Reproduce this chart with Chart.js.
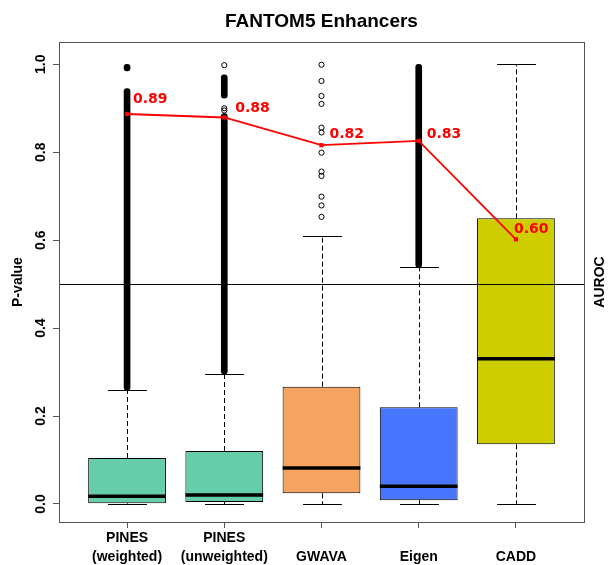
<!DOCTYPE html>
<html><head><meta charset="utf-8">
<script src="https://cdn.jsdelivr.net/npm/chart.js@4/dist/chart.umd.min.js"></script>
<style>html,body{margin:0;padding:0;background:#fff}</style>
</head><body>
<canvas id="c" width="608" height="565"></canvas>
<script>
// ---- data ----
const categories = [["PINES","(weighted)"],["PINES","(unweighted)"],["","GWAVA"],["","Eigen"],["","CADD"]];
const boxColors = ["#66CDAA","#66CDAA","#F4A460","#4876FF","#CDCD00"];
const whiskerLow = [0.0, 0.0, 0.0, 0.0, 0.0];
const q1 = [0.0015, 0.0045, 0.0243, 0.0084, 0.1357];
const medians = [0.0175, 0.0205, 0.0819, 0.0402, 0.3305];
const q3 = [0.1046, 0.1205, 0.2668, 0.2199, 0.6497];
const whiskerHigh = [0.259, 0.296, 0.610, 0.538, 1.0];
// dense runs of overlapping outliers (box index 1-based, low, high)
const bandBox = [1, 1, 2, 2, 4];
const bandLow = [0.259, 0.985, 0.296, 0.923, 0.538];
const bandHigh = [0.945, 1.0, 0.888, 0.976, 1.0];
// individually visible outliers
const outlierBox = [2, 2, 2, 3, 3, 3, 3, 3, 3, 3, 3, 3, 3, 3, 3];
const outlierValue = [0.895, 0.900, 0.998, 0.999, 0.962, 0.928, 0.910, 0.856, 0.845, 0.799, 0.756, 0.746, 0.699, 0.679, 0.653];
const auroc = [0.887, 0.879, 0.816, 0.826, 0.602];
const yTicks = [0, 0.2, 0.4, 0.6, 0.8, 1.0];
const threshold = 0.5;

// ---- styles (pixel offsets of the AUROC labels) ----
const labelOffsets = [[6,-15],[11,-9],[8,-11],[8,-6],[-2,-10]];
const HEL = "'Liberation Sans', Arial, sans-serif";

const extras = {
  id: 'extras',
  afterDatasetsDraw(chart) {
    const {ctx, chartArea: a, scales: {x, y}} = chart;
    const boxMeta = chart.getDatasetMeta(3);
    ctx.save();
    categories.forEach((c, i) => {
      const el = boxMeta.data[i];
      const w = el.width;
      const px = Math.round(x.getPixelForValue(i + 1)) + 0.5;
      ctx.strokeStyle = '#000';
      ctx.lineWidth = 1;
      ctx.setLineDash([5, 3]);
      ctx.beginPath();
      ctx.moveTo(px, y.getPixelForValue(q3[i]));
      ctx.lineTo(px, y.getPixelForValue(whiskerHigh[i]));
      ctx.moveTo(px, y.getPixelForValue(q1[i]));
      ctx.lineTo(px, y.getPixelForValue(whiskerLow[i]));
      ctx.stroke();
      ctx.setLineDash([]);
      ctx.beginPath();
      const sh = Math.round(y.getPixelForValue(whiskerHigh[i])) + 0.5;
      const sl = Math.round(y.getPixelForValue(whiskerLow[i])) + 0.5;
      ctx.moveTo(px - w / 4, sh); ctx.lineTo(px + w / 4, sh);
      ctx.moveTo(px - w / 4, sl); ctx.lineTo(px + w / 4, sl);
      ctx.stroke();
      ctx.lineWidth = 3.5;
      ctx.beginPath();
      const my = y.getPixelForValue(medians[i]);
      ctx.moveTo(el.x - w / 2, my); ctx.lineTo(el.x + w / 2, my);
      ctx.stroke();
    });
    ctx.lineWidth = 1;
    ctx.strokeStyle = '#000';
    const ty = Math.round(y.getPixelForValue(threshold)) + 0.5;
    ctx.beginPath(); ctx.moveTo(a.left, ty); ctx.lineTo(a.right, ty); ctx.stroke();
    ctx.strokeStyle = '#555';
    ctx.strokeRect(Math.round(a.left) + 0.5, Math.round(a.top) + 0.5, Math.round(a.right - a.left), Math.round(a.bottom - a.top));
    ctx.fillStyle = '#FF0000';
    ctx.font = "bold 14px 'DejaVu Sans'";
    ctx.textAlign = 'left';
    ctx.textBaseline = 'middle';
    auroc.forEach((v, i) => {
      const px = x.getPixelForValue(i + 1), py = y.getPixelForValue(v);
      ctx.fillText(v.toFixed(2), px + labelOffsets[i][0], py + labelOffsets[i][1]);
    });
    ctx.fillStyle = '#000';
    ctx.font = "bold 14px " + HEL;
    ctx.textAlign = 'center';
    ctx.translate(600, (a.top + a.bottom) / 2);
    ctx.rotate(-Math.PI / 2);
    ctx.fillText('AUROC', 0, 0);
    ctx.restore();
  }
};

new Chart(document.getElementById('c'), {
  type: 'bar',
  data: {
    datasets: [
      {
        type: 'line', label: 'AUROC', order: 0,
        data: auroc.map((v, i) => ({x: i + 1, y: v})),
        borderColor: '#FF0000', backgroundColor: '#FF0000', borderWidth: 1.8,
        pointStyle: 'rect', pointRadius: 3, pointBorderWidth: 0, tension: 0
      },
      {
        type: 'scatter', label: 'outliers', order: 1,
        data: outlierBox.map((b, i) => ({x: b, y: outlierValue[i]})),
        pointStyle: 'circle', pointRadius: 2.6, borderWidth: 1,
        borderColor: '#000', backgroundColor: 'rgba(0,0,0,0)'
      },
      {
        type: 'bar', label: 'outlier runs', order: 2, grouped: false,
        data: bandBox.map((b, i) => ({x: b, y: [bandLow[i], bandHigh[i]]})),
        backgroundColor: '#000', barThickness: 6, borderRadius: 3, borderSkipped: false, borderWidth: 0
      },
      {
        type: 'bar', label: 'boxes', order: 3, grouped: false,
        data: q1.map((v, i) => ({x: i + 1, y: [v, q3[i]]})),
        backgroundColor: boxColors, borderColor: '#000', borderWidth: 1, borderSkipped: false,
        barPercentage: 0.8, categoryPercentage: 1
      }
    ]
  },
  options: {
    responsive: false, animation: false, events: [],
    layout: {padding: {left: 0, right: 24, top: 0, bottom: 0}},
    plugins: {
      legend: {display: false}, tooltip: {enabled: false},
      title: {display: true, text: 'FANTOM5 Enhancers', fullSize: false, color: '#000',
        font: {family: HEL, size: 19, weight: 'bold', lineHeight: 1.2}, padding: {top: 10.5, bottom: 8.7}}
    },
    scales: {
      x: {
        type: 'linear', min: 0.3, max: 5.7, bounds: 'data', offset: false,
        afterBuildTicks: s => { s.ticks = categories.map((c, i) => ({value: i + 1})); },
        afterFit: s => { s.height = 43; },
        grid: {drawOnChartArea: false, drawTicks: true, tickLength: 6, color: '#555', offset: false},
        border: {display: false},
        ticks: {autoSkip: false, minRotation: 0, maxRotation: 0, padding: 0, color: '#000',
          font: {family: HEL, size: 14, weight: 'bold', lineHeight: 1.4},
          callback: v => categories[v - 1]}
      },
      y: {
        type: 'linear', min: -0.041, max: 1.0507, bounds: 'data',
        afterBuildTicks: s => { s.ticks = yTicks.map(v => ({value: v})); },
        afterFit: s => { s.width = 59; },
        grid: {drawOnChartArea: false, drawTicks: true, tickLength: 6, color: '#555'},
        border: {display: false},
        title: {display: true, text: 'P-value', color: '#000',
          font: {family: HEL, size: 14, weight: 'bold', lineHeight: 1.2}, padding: {top: 9.6, bottom: 0}},
        ticks: {minRotation: 90, maxRotation: 90, crossAlign: 'center', padding: 2, color: '#000',
          font: {family: HEL, size: 14, weight: 'bold'},
          callback: v => v.toFixed(1)}
      }
    }
  },
  plugins: [extras]
});
</script>
</body></html>
